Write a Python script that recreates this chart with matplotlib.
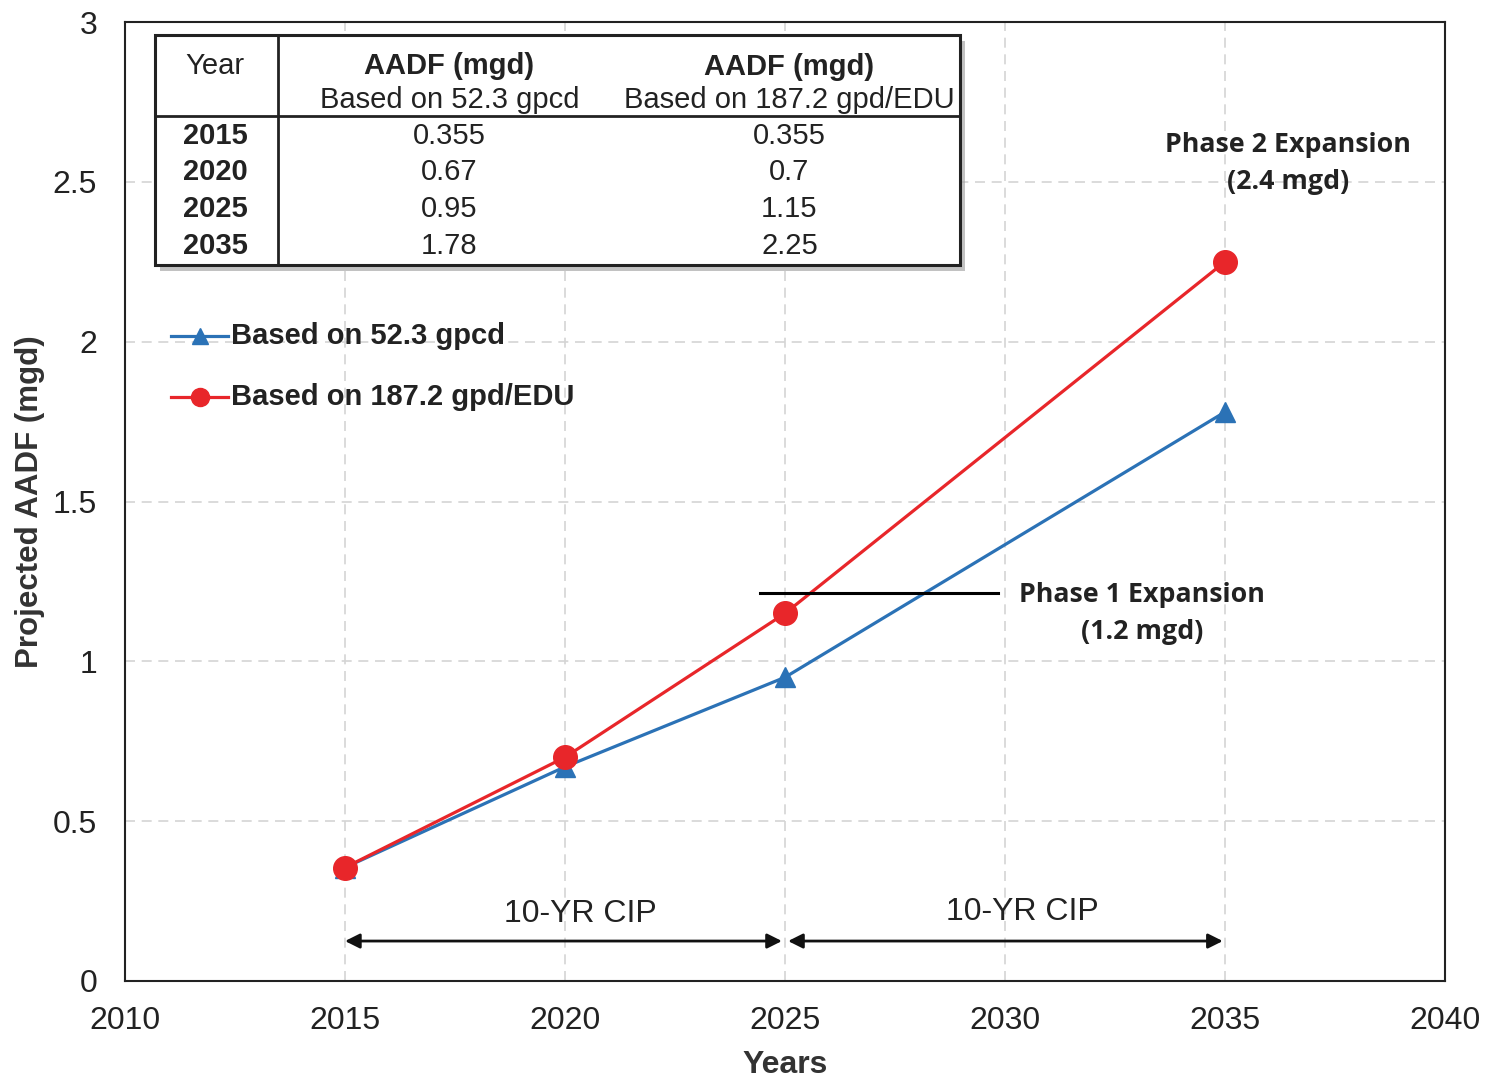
import numpy as np
import matplotlib.pyplot as plt
from matplotlib.patches import Rectangle

# Data
years = [2015, 2020, 2025, 2035]
aadf_gpcd = [0.355, 0.67, 0.95, 1.78]
aadf_edu = [0.355, 0.7, 1.15, 2.25]
label_gpcd = 'Based on 52.3 gpcd'
label_edu = 'Based on 187.2 gpd/EDU'

plt.rcParams['font.family'] = ['Liberation Sans', 'DejaVu Sans']

fig = plt.figure(figsize=(14.9, 10.78), dpi=100)
ax = fig.add_axes([125 / 1490, 1 - 981 / 1078, 1320 / 1490, 959 / 1078])

blue = '#2b72b6'
red = '#e8262a'

ax.plot(years, aadf_gpcd, color=blue, lw=2.3, marker='^', ms=15, zorder=3)
ax.plot(years, aadf_edu, color=red, lw=2.3, marker='o', ms=17, zorder=4)

ax.set_xlim(2010, 2040)
ax.set_ylim(0, 3)
ax.set_xticks(np.arange(2010, 2041, 5))
ax.set_yticks(np.arange(0, 3.01, 0.5))
ax.set_yticklabels(['0', '0.5', '1', '1.5', '2', '2.5', '3'])
ax.tick_params(length=0, labelsize=23, colors='#222222')
ax.tick_params(axis='x', pad=18)
ax.tick_params(axis='y', pad=20)
ax.grid(True, color='#d4d4d4', ls=(0, (6, 4)), lw=1.2)
for s in ax.spines.values():
    s.set_color('#222222')
    s.set_linewidth(1.5)
ax.set_xlabel('Years', fontsize=23, fontweight='bold', color='#333333', labelpad=10)
ax.set_ylabel('Projected AADF (mgd)', fontsize=22.5, fontweight='bold', color='#333333', labelpad=6)

# legend drawn by hand in data coords
for yy, col, mk, ms, lab in [(2.017, blue, '^', 12, label_gpcd), (1.827, red, 'o', 13, label_edu)]:
    ax.plot([2011.05, 2012.35], [yy, yy], color=col, lw=2.3, zorder=5)
    ax.plot([2011.7], [yy], color=col, marker=mk, ms=ms, zorder=5)
    ax.text(2012.4, yy, lab, fontsize=21, fontweight='bold', color='#222222',
            va='center', ha='left', zorder=5)

# annotations
ann_font = ['Open Sans', 'DejaVu Sans']
ax.text(2036.43, 2.556, 'Phase 2 Expansion\n(2.4 mgd)', fontsize=19.3, fontweight='bold',
        ha='center', va='center', family=ann_font, linespacing=1.55, color='#222222')
ax.plot([2024.43, 2029.84], [1.215, 1.215], color='black', lw=2.2, zorder=5)
ax.text(2033.11, 1.151, 'Phase 1 Expansion\n(1.2 mgd)', fontsize=19.3, fontweight='bold',
        ha='center', va='center', family=ann_font, linespacing=1.55, color='#222222')

# CIP arrows
arrow = dict(arrowstyle='<|-|>', color='#111111', lw=2, mutation_scale=22, shrinkA=0, shrinkB=0)
ax.annotate('', xy=(2024.93, 0.125), xytext=(2015, 0.125), arrowprops=arrow)
ax.annotate('', xy=(2034.95, 0.125), xytext=(2025.07, 0.125), arrowprops=arrow)
ax.text(2020.35, 0.21, '10-YR CIP', fontsize=23, ha='center', va='center', color='#222222')
ax.text(2030.4, 0.215, '10-YR CIP', fontsize=23, ha='center', va='center', color='#222222')

# table
x0, x1, xdiv = 2010.68, 2028.98, 2013.48
y0, y1, yhead = 2.24, 2.96, 2.705
ax.add_patch(Rectangle((x0 + 0.12, y0 - 0.018), x1 - x0, y1 - y0, facecolor='#9a9a9a',
                       edgecolor='none', alpha=0.6, zorder=6))
ax.add_patch(Rectangle((x0, y0), x1 - x0, y1 - y0, facecolor='white',
                       edgecolor='#222222', lw=2.2, zorder=7))
ax.plot([xdiv, xdiv], [y0, y1], color='#222222', lw=2, zorder=8)
ax.plot([x0, x1], [yhead, yhead], color='#222222', lw=2, zorder=8)
c0, c1, c2 = 2012.05, 2017.37, 2025.1
tf = dict(fontsize=21, ha='center', va='center', zorder=9, color='#222222')
ax.text(c0, 2.863, 'Year', **tf)
ax.text(c1, 2.863, 'AADF (mgd)', fontweight='bold', **tf)
ax.text(c2, 2.86, 'AADF (mgd)', fontweight='bold', **tf)
ax.text(c1, 2.755, label_gpcd, **tf)
ax.text(c2, 2.755, label_edu, **tf)
row_y = [2.643, 2.53, 2.414, 2.298]
for yr, a, b, ry in zip(years, aadf_gpcd, aadf_edu, row_y):
    ax.text(c0, ry, str(yr), fontweight='bold', **tf)
    ax.text(c1, ry, f'{a:g}', **tf)
    ax.text(c2, ry, f'{b:g}', **tf)

fig.savefig('out.png', dpi=100)
